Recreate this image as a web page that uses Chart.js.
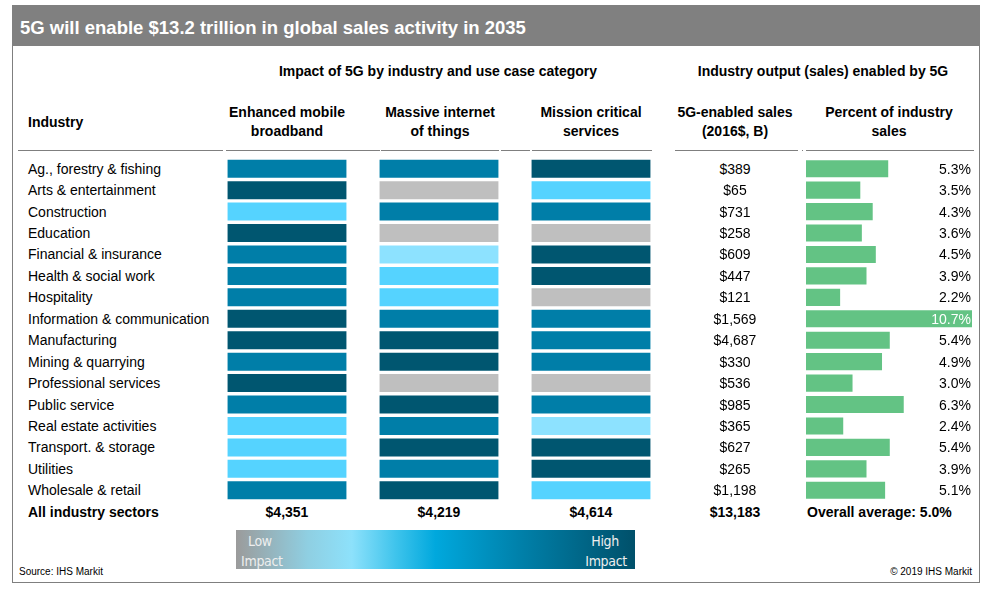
<!DOCTYPE html>
<html><head><meta charset="utf-8">
<script src="https://cdn.jsdelivr.net/npm/chart.js@4.4.1/dist/chart.umd.min.js"></script>
<style>
html,body{margin:0;padding:0;}
body{width:986px;height:594px;background:#fff;position:relative;overflow:hidden;font-family:"Liberation Sans",Arial,sans-serif;color:#000;}
.abs{position:absolute;white-space:nowrap;}
#frame{position:absolute;left:12px;top:5px;width:968px;height:578px;box-sizing:border-box;border:1px solid #7f7f7f;}
#titlebar{position:absolute;left:12px;top:5px;width:968px;height:41px;background:#808080;}
#title{position:absolute;left:20px;top:8px;height:40px;line-height:40px;color:#fff;font-weight:bold;font-size:18.5px;white-space:nowrap;}
.hdr{font-weight:bold;font-size:14px;text-align:center;line-height:19px;}
.uline{position:absolute;height:0;border-top:1px solid #7f7f7f;top:150px;}
.cell{font-size:14px;height:20px;line-height:20px;}
.leg{font-family:"Liberation Sans Narrow","Arial Narrow","DejaVu Sans Condensed",sans-serif;font-size:14px;letter-spacing:-0.3px;color:#eeeeee;line-height:20px;}
.foot{font-size:10px;line-height:12px;}
</style></head><body>
<div id="frame"></div>
<div id="titlebar"></div>
<div id="title">5G will enable $13.2 trillion in global sales activity in 2035</div>

<div class="abs hdr" style="left:238px;width:400px;top:61.5px;">Impact of 5G by industry and use case category</div>
<div class="abs hdr" style="left:673px;width:300px;top:61.5px;">Industry output (sales) enabled by 5G</div>

<div class="abs hdr" style="left:28px;top:112.5px;text-align:left;">Industry</div>
<div id="colHeads"></div>

<div class="uline" style="left:18px;width:205px;"></div>
<div class="uline" style="left:226px;width:154px;"></div>
<div class="uline" style="left:381px;width:118px;"></div>
<div class="uline" style="left:501px;width:29px;"></div>
<div class="uline" style="left:532px;width:120px;"></div>
<div class="uline" style="left:675px;width:123px;"></div>
<div class="uline" style="left:802px;width:1px;"></div>
<div class="uline" style="left:806px;width:168px;"></div>

<div class="abs" style="left:211px;top:158px;"><canvas id="heat" width="456" height="343"></canvas></div>
<div class="abs" style="left:806px;top:158px;"><canvas id="bars" width="166" height="343"></canvas></div>
<div id="rows"></div>

<div class="abs" style="left:236px;top:530px;width:399px;height:39px;background:linear-gradient(to right,#9b9b9b 0%,#8fcfe2 18%,#8de1fb 29%,#3fc4ec 40%,#00a8dd 50%,#007fa8 72%,#00506a 100%);"></div>
<div class="abs leg" style="left:248px;top:531px;">Low</div>
<div class="abs leg" style="left:241px;top:551px;">Impact</div>
<div class="abs leg" style="left:519px;width:100px;text-align:right;top:531px;">High</div>
<div class="abs leg" style="left:527px;width:100px;text-align:right;top:551px;">Impact</div>

<div class="abs foot" style="left:19px;top:566px;">Source: IHS Markit</div>
<div class="abs foot" style="left:772px;width:200px;text-align:right;top:566px;">© 2019 IHS Markit</div>

<script>
const industries = ["Ag., forestry & fishing","Arts & entertainment","Construction","Education","Financial & insurance","Health & social work","Hospitality","Information & communication","Manufacturing","Mining & quarrying","Professional services","Public service","Real estate activities","Transport. & storage","Utilities","Wholesale & retail"];
const useCases = [["Enhanced mobile","broadband"],["Massive internet","of things"],["Mission critical","services"]];
const outputHeads = [["5G-enabled sales","(2016$, B)"],["Percent of industry","sales"]];
// impact level: 1 = none (grey) ... 5 = high
const embImpact  = [4,5,3,5,4,4,4,5,5,4,5,4,3,3,3,4];
const miotImpact = [4,1,4,1,2,3,3,4,5,5,1,5,4,5,4,5];
const mcsImpact  = [5,3,4,1,5,5,1,4,4,4,1,4,2,5,5,3];
const sales = [389,65,731,258,609,447,121,1569,4687,330,536,985,365,627,265,1198];
const percentSales = [5.3,3.5,4.3,3.6,4.5,3.9,2.2,10.7,5.4,4.9,3.0,6.3,2.4,5.4,3.9,5.1];
const useCaseTotals = [4351,4219,4614];
const salesTotal = 13183;
const overallAverage = 5.0;
const totalLabel = "All industry sectors";

const impactColors = {1:"#bfbfbf",2:"#8de2ff",3:"#55d3ff",4:"#007ea8",5:"#005670"};
const green = "#63c384";
const impactCols = [embImpact, miotImpact, mcsImpact];

// Heatmap: stacked unit cells, one dataset per industry row
const heat = new Chart(document.getElementById('heat'), {
  type: 'bar',
  data: {
    labels: useCases.map(u => u.join(' ')),
    datasets: industries.map((name, i) => ({
      label: name,
      data: useCases.map(() => 1),
      backgroundColor: impactCols.map(col => impactColors[col[i]]),
      borderColor: '#ffffff',
      borderWidth: {top: 1.7, bottom: 1.7, left: 0, right: 0},
      borderSkipped: false,
      inflateAmount: 0,
      barPercentage: 0.785,
      categoryPercentage: 1
    }))
  },
  options: {
    responsive: false, animation: false, devicePixelRatio: 1,
    layout: {padding: 0},
    plugins: {legend: {display: false}, tooltip: {enabled: false}},
    scales: {
      x: {display: false, stacked: true},
      y: {display: false, stacked: true, reverse: true, min: 0, max: industries.length}
    }
  }
});

const bars = new Chart(document.getElementById('bars'), {
  type: 'bar',
  data: {
    labels: industries,
    datasets: [{data: percentSales, backgroundColor: green, barPercentage: 0.8, categoryPercentage: 1, inflateAmount: 0}]
  },
  options: {
    indexAxis: 'y', responsive: false, animation: false, devicePixelRatio: 1,
    layout: {padding: 0},
    plugins: {legend: {display: false}, tooltip: {enabled: false}},
    scales: {
      x: {display: false, min: 0, max: Math.max(...percentSales)},
      y: {display: false}
    }
  }
});

const fmt = v => '$' + v.toLocaleString('en-US');
const rows = document.getElementById('rows');
const heatTop = 158, barLeft = 806;
const xE = heat.scales.x;
const colCenters = useCases.map((u, k) => 211 + xE.getPixelForValue(k));
function addDiv(html, style, cls) {
  const d = document.createElement('div');
  d.className = 'abs ' + (cls || '');
  d.innerHTML = html;
  d.setAttribute('style', style);
  rows.appendChild(d);
  return d;
}
// column headers
const ch = document.getElementById('colHeads');
useCases.forEach((u, k) => {
  const d = document.createElement('div');
  d.className = 'abs hdr';
  d.setAttribute('style', `left:${colCenters[k]-80 + (k===1?1:0)}px;width:160px;top:102.5px;`);
  d.innerHTML = u.join('<br>');
  ch.appendChild(d);
});
const salesCenter = 735, pctCenter = 889, pctRight = 971;
[salesCenter, pctCenter].forEach((c, k) => {
  const d = document.createElement('div');
  d.className = 'abs hdr';
  d.setAttribute('style', `left:${c-90}px;width:180px;top:102.5px;`);
  d.innerHTML = outputHeads[k].join('<br>');
  ch.appendChild(d);
});
// rows
const yB = bars.scales.y, xB = bars.scales.x;
industries.forEach((name, i) => {
  const cy = heatTop + yB.getPixelForValue(i);
  addDiv(name, `left:28px;top:${cy-10}px;`, 'cell');
  addDiv(fmt(sales[i]), `left:${salesCenter-60}px;width:120px;text-align:center;top:${cy-10}px;`, 'cell');
  const end = barLeft + xB.getPixelForValue(percentSales[i]);
  const inside = end > pctRight - 38;
  addDiv(percentSales[i].toFixed(1) + '%', `left:${pctRight-60}px;width:60px;text-align:right;top:${cy-10}px;color:${inside ? '#ffffff' : '#000000'};`, 'cell');
});
// totals row
const ty = heatTop + yB.bottom + (yB.bottom - yB.top) / industries.length / 2;
addDiv(totalLabel, `left:28px;top:${ty-10}px;font-weight:bold;`, 'cell');
useCaseTotals.forEach((v, k) => {
  addDiv(fmt(v), `left:${colCenters[k]-60}px;width:120px;text-align:center;top:${ty-10}px;font-weight:bold;`, 'cell');
});
addDiv(fmt(salesTotal), `left:${salesCenter-60}px;width:120px;text-align:center;top:${ty-10}px;font-weight:bold;`, 'cell');
addDiv('Overall average: ' + overallAverage.toFixed(1) + '%', `left:807px;top:${ty-10}px;font-weight:bold;`, 'cell');
</script>
</body></html>
